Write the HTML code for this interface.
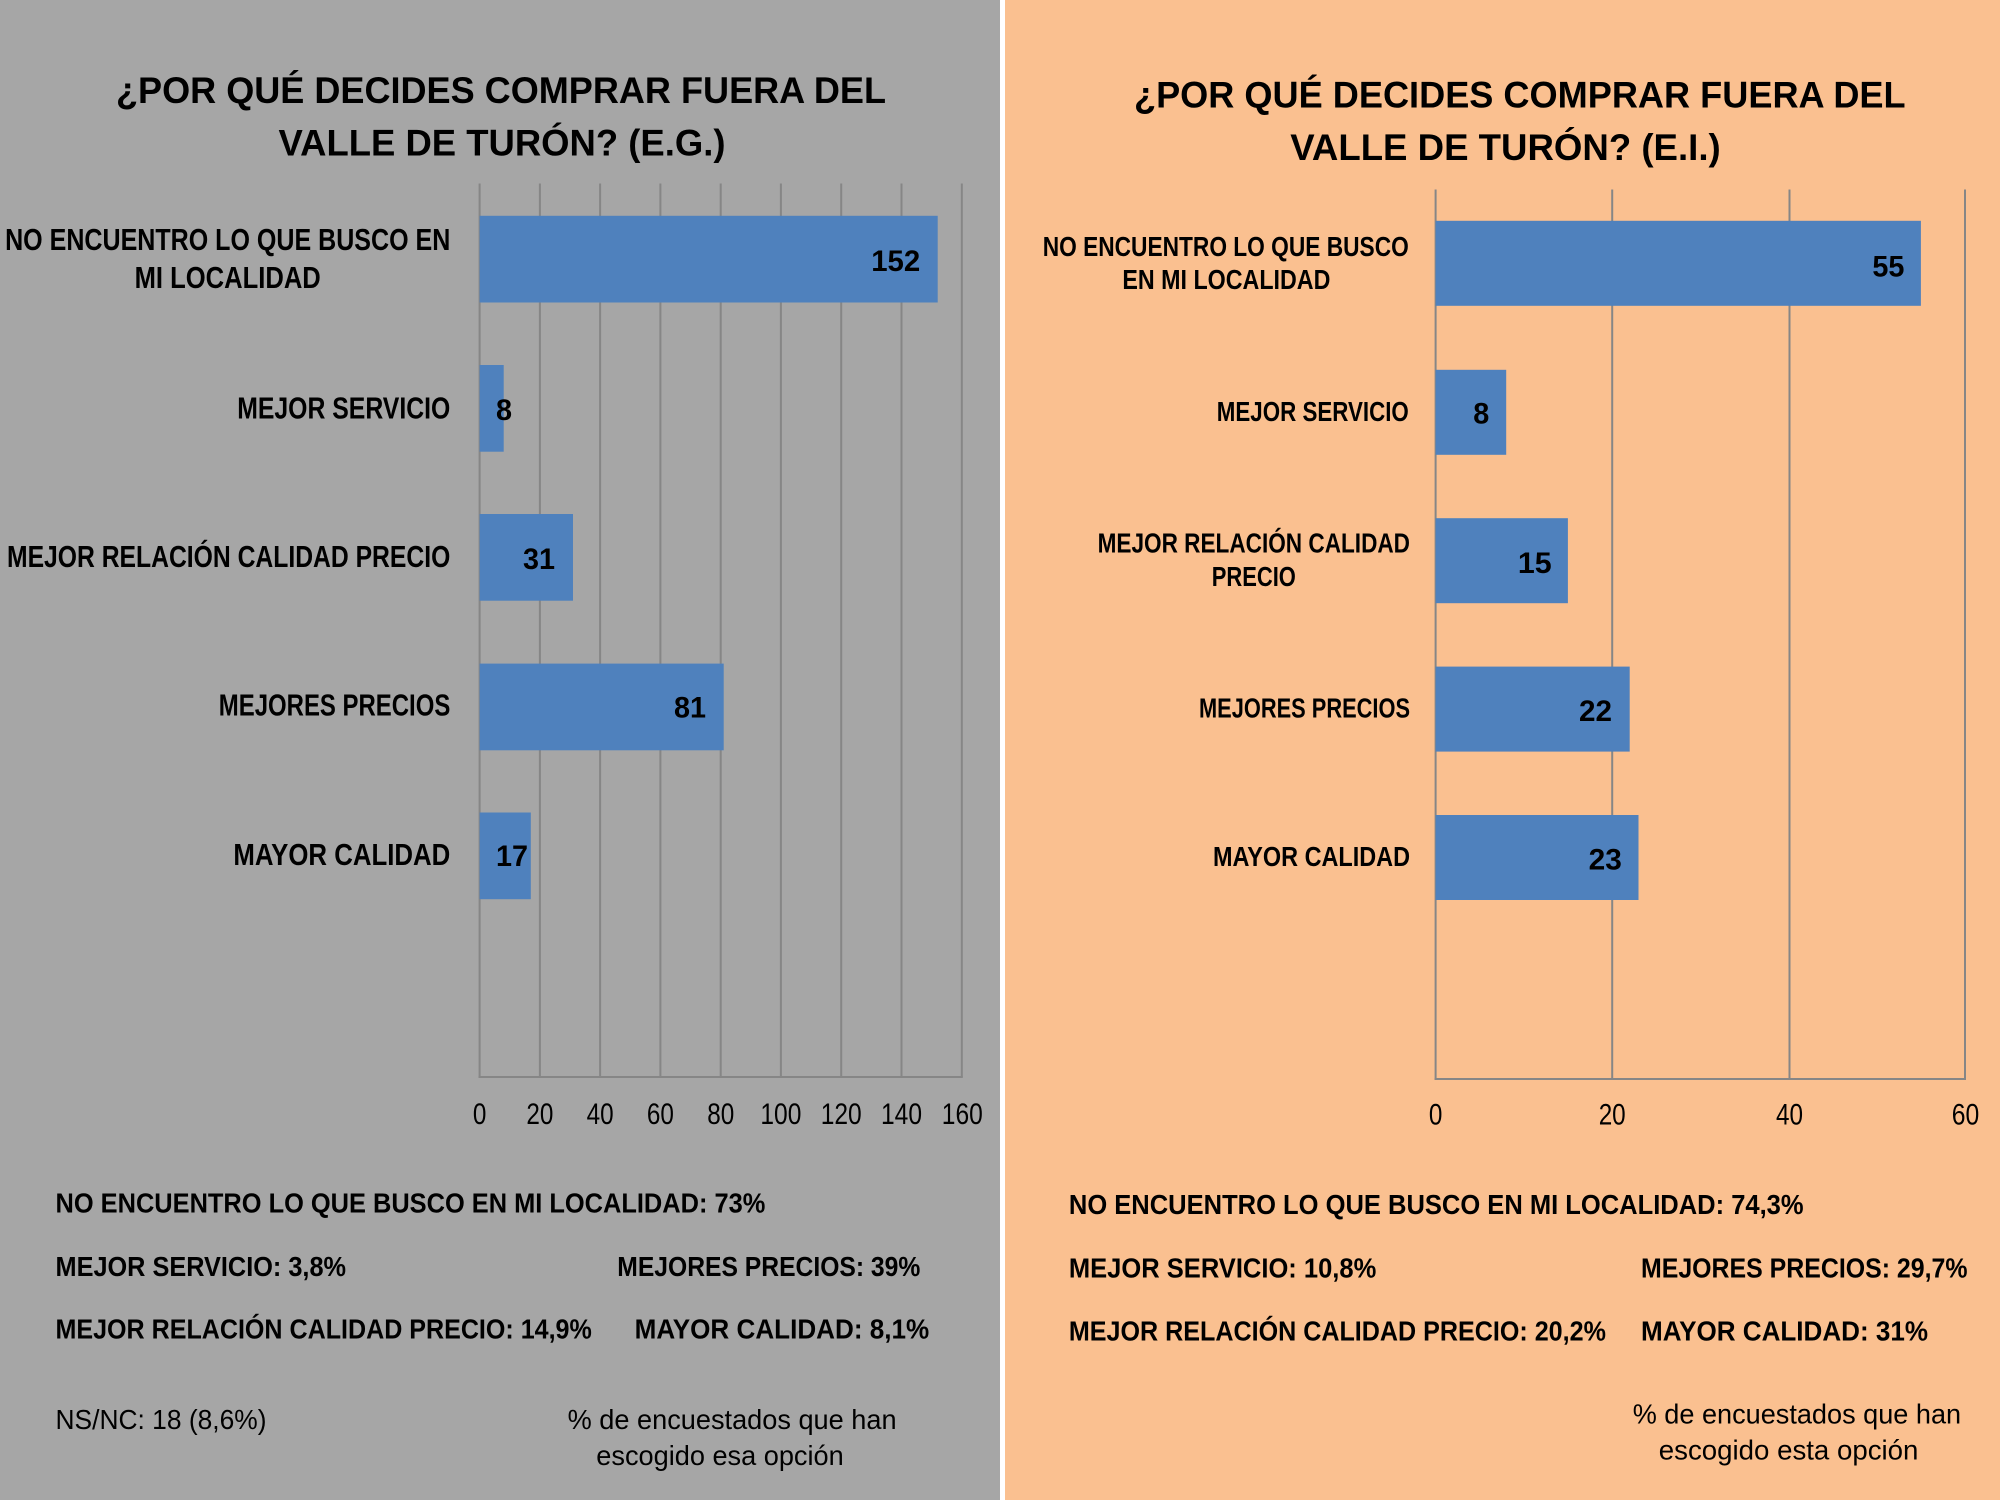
<!DOCTYPE html>
<html>
<head>
<meta charset="utf-8">
<style>
html,body{margin:0;padding:0;width:2000px;height:1500px;overflow:hidden;background:#fff;}
svg{display:block;}
text{font-family:"Liberation Sans",Arial,sans-serif;fill:#000;}
.b{font-weight:bold;}
</style>
</head>
<body>
<svg width="2000" height="1500" viewBox="0 0 2000 1500" xmlns="http://www.w3.org/2000/svg">
<!-- backgrounds -->
<rect x="0" y="0" width="1000" height="1500" fill="#a6a6a6"/>
<rect x="1000" y="0" width="5" height="1500" fill="#ffffff"/>
<rect x="1005" y="0" width="995" height="1500" fill="#fac090"/>

<!-- ===== LEFT CHART ===== -->
<text class="b" x="116" y="103" font-size="37" textLength="770" lengthAdjust="spacingAndGlyphs">¿POR QUÉ DECIDES COMPRAR FUERA DEL</text>
<text class="b" x="278.5" y="155.7" font-size="37" textLength="447" lengthAdjust="spacingAndGlyphs">VALLE DE TURÓN? (E.G.)</text>

<g stroke="#868686" stroke-width="2">
<line x1="539.9" y1="183.5" x2="539.9" y2="1077"/>
<line x1="600.1" y1="183.5" x2="600.1" y2="1077"/>
<line x1="660.4" y1="183.5" x2="660.4" y2="1077"/>
<line x1="720.7" y1="183.5" x2="720.7" y2="1077"/>
<line x1="780.9" y1="183.5" x2="780.9" y2="1077"/>
<line x1="841.2" y1="183.5" x2="841.2" y2="1077"/>
<line x1="901.5" y1="183.5" x2="901.5" y2="1077"/>
<line x1="961.8" y1="183.5" x2="961.8" y2="1077"/>
<line x1="479.6" y1="183.5" x2="479.6" y2="1078"/>
<line x1="478.6" y1="1077" x2="962.8" y2="1077"/>
</g>

<g fill="#4f81bd">
<rect x="479.6" y="215.8" width="458.1" height="86.7"/>
<rect x="479.6" y="365" width="24.1" height="86.7"/>
<rect x="479.6" y="514" width="93.4" height="86.7"/>
<rect x="479.6" y="663.6" width="244.1" height="86.7"/>
<rect x="479.6" y="812.5" width="51.2" height="86.7"/>
</g>

<g class="b" font-size="31">
<text class="b" x="5.1" y="250" textLength="445.2" lengthAdjust="spacingAndGlyphs">NO ENCUENTRO LO QUE BUSCO EN</text>
<text class="b" x="134.6" y="288" textLength="186.2" lengthAdjust="spacingAndGlyphs">MI LOCALIDAD</text>
<text class="b" x="237.2" y="418.5" textLength="213.1" lengthAdjust="spacingAndGlyphs">MEJOR SERVICIO</text>
<text class="b" x="7" y="567" textLength="443.3" lengthAdjust="spacingAndGlyphs">MEJOR RELACIÓN CALIDAD PRECIO</text>
<text class="b" x="218.8" y="715.7" textLength="231.5" lengthAdjust="spacingAndGlyphs">MEJORES PRECIOS</text>
<text class="b" x="233.4" y="865" textLength="216.9" lengthAdjust="spacingAndGlyphs">MAYOR CALIDAD</text>
</g>

<g font-size="30">
<text class="b" x="871.2" y="271" textLength="49" lengthAdjust="spacingAndGlyphs">152</text>
<text class="b" x="496" y="420" textLength="16" lengthAdjust="spacingAndGlyphs">8</text>
<text class="b" x="523" y="569" textLength="32" lengthAdjust="spacingAndGlyphs">31</text>
<text class="b" x="674" y="717.6" textLength="32" lengthAdjust="spacingAndGlyphs">81</text>
<text class="b" x="496" y="866" textLength="32" lengthAdjust="spacingAndGlyphs">17</text>
</g>

<g font-size="30">
<text x="472.9" y="1124" textLength="13.5" lengthAdjust="spacingAndGlyphs">0</text>
<text x="526.4" y="1124" textLength="27" lengthAdjust="spacingAndGlyphs">20</text>
<text x="586.6" y="1124" textLength="27" lengthAdjust="spacingAndGlyphs">40</text>
<text x="646.9" y="1124" textLength="27" lengthAdjust="spacingAndGlyphs">60</text>
<text x="707.2" y="1124" textLength="27" lengthAdjust="spacingAndGlyphs">80</text>
<text x="760.4" y="1124" textLength="41" lengthAdjust="spacingAndGlyphs">100</text>
<text x="820.7" y="1124" textLength="41" lengthAdjust="spacingAndGlyphs">120</text>
<text x="881" y="1124" textLength="41" lengthAdjust="spacingAndGlyphs">140</text>
<text x="941.8" y="1124" textLength="41" lengthAdjust="spacingAndGlyphs">160</text>
</g>

<g font-size="28">
<text class="b" x="55.5" y="1212.5" textLength="709.8" lengthAdjust="spacingAndGlyphs">NO ENCUENTRO LO QUE BUSCO EN MI LOCALIDAD: 73%</text>
<text class="b" x="55.5" y="1276" textLength="290.5" lengthAdjust="spacingAndGlyphs">MEJOR SERVICIO: 3,8%</text>
<text class="b" x="617.3" y="1276" textLength="303" lengthAdjust="spacingAndGlyphs">MEJORES PRECIOS: 39%</text>
<text class="b" x="55.5" y="1338.5" textLength="536.3" lengthAdjust="spacingAndGlyphs">MEJOR RELACIÓN CALIDAD PRECIO: 14,9%</text>
<text class="b" x="634.6" y="1338.5" textLength="294.6" lengthAdjust="spacingAndGlyphs">MAYOR CALIDAD: 8,1%</text>
<text x="55.5" y="1429" textLength="211" lengthAdjust="spacingAndGlyphs">NS/NC: 18 (8,6%)</text>
<text x="567.6" y="1429" textLength="329" lengthAdjust="spacingAndGlyphs">% de encuestados que han</text>
<text x="596.3" y="1465" textLength="247.4" lengthAdjust="spacingAndGlyphs">escogido esa opción</text>
</g>

<!-- ===== RIGHT CHART ===== -->
<text class="b" x="1134" y="107.6" font-size="37" textLength="771.6" lengthAdjust="spacingAndGlyphs">¿POR QUÉ DECIDES COMPRAR FUERA DEL</text>
<text class="b" x="1290.2" y="160.2" font-size="37" textLength="430.5" lengthAdjust="spacingAndGlyphs">VALLE DE TURÓN? (E.I.)</text>

<g stroke="#868686" stroke-width="2">
<line x1="1612.2" y1="189.5" x2="1612.2" y2="1079"/>
<line x1="1789.5" y1="189.5" x2="1789.5" y2="1079"/>
<line x1="1965" y1="189.5" x2="1965" y2="1079"/>
<line x1="1435.6" y1="189.5" x2="1435.6" y2="1080"/>
<line x1="1434.6" y1="1079" x2="1966" y2="1079"/>
</g>

<g fill="#4f81bd">
<rect x="1435.6" y="220.8" width="485.3" height="85"/>
<rect x="1435.6" y="369.8" width="70.6" height="85"/>
<rect x="1435.6" y="518.2" width="132.3" height="85"/>
<rect x="1435.6" y="666.6" width="194.1" height="85"/>
<rect x="1435.6" y="815" width="202.9" height="85"/>
</g>

<g font-size="28">
<text class="b" x="1042.7" y="256" textLength="366.1" lengthAdjust="spacingAndGlyphs">NO ENCUENTRO LO QUE BUSCO</text>
<text class="b" x="1122.4" y="289" textLength="208" lengthAdjust="spacingAndGlyphs">EN MI LOCALIDAD</text>
<text class="b" x="1216.8" y="421" textLength="192" lengthAdjust="spacingAndGlyphs">MEJOR SERVICIO</text>
<text class="b" x="1097.6" y="552.4" textLength="312.4" lengthAdjust="spacingAndGlyphs">MEJOR RELACIÓN CALIDAD</text>
<text class="b" x="1211.7" y="586.2" textLength="84.2" lengthAdjust="spacingAndGlyphs">PRECIO</text>
<text class="b" x="1199" y="717.6" textLength="211" lengthAdjust="spacingAndGlyphs">MEJORES PRECIOS</text>
<text class="b" x="1213" y="866.2" textLength="197" lengthAdjust="spacingAndGlyphs">MAYOR CALIDAD</text>
</g>

<g font-size="30">
<text class="b" x="1872.4" y="276.3" textLength="32" lengthAdjust="spacingAndGlyphs">55</text>
<text class="b" x="1473.2" y="423.6" textLength="16" lengthAdjust="spacingAndGlyphs">8</text>
<text class="b" x="1517.9" y="572.8" textLength="33.8" lengthAdjust="spacingAndGlyphs">15</text>
<text class="b" x="1579" y="720.8" textLength="33" lengthAdjust="spacingAndGlyphs">22</text>
<text class="b" x="1588.6" y="869.4" textLength="33.2" lengthAdjust="spacingAndGlyphs">23</text>
</g>

<g font-size="30">
<text x="1428.9" y="1124.5" textLength="13.5" lengthAdjust="spacingAndGlyphs">0</text>
<text x="1598.7" y="1124.5" textLength="27" lengthAdjust="spacingAndGlyphs">20</text>
<text x="1776" y="1124.5" textLength="27" lengthAdjust="spacingAndGlyphs">40</text>
<text x="1951.8" y="1124.5" textLength="27.5" lengthAdjust="spacingAndGlyphs">60</text>
</g>

<g font-size="28">
<text class="b" x="1068.9" y="1214" textLength="734.7" lengthAdjust="spacingAndGlyphs">NO ENCUENTRO LO QUE BUSCO EN MI LOCALIDAD: 74,3%</text>
<text class="b" x="1068.9" y="1277.6" textLength="307.4" lengthAdjust="spacingAndGlyphs">MEJOR SERVICIO: 10,8%</text>
<text class="b" x="1641" y="1277.6" textLength="326.5" lengthAdjust="spacingAndGlyphs">MEJORES PRECIOS: 29,7%</text>
<text class="b" x="1068.9" y="1340.7" textLength="537" lengthAdjust="spacingAndGlyphs">MEJOR RELACIÓN CALIDAD PRECIO: 20,2%</text>
<text class="b" x="1641" y="1340.7" textLength="287" lengthAdjust="spacingAndGlyphs">MAYOR CALIDAD: 31%</text>
<text x="1632.7" y="1423.5" textLength="328.4" lengthAdjust="spacingAndGlyphs">% de encuestados que han</text>
<text x="1658.8" y="1459.3" textLength="259.6" lengthAdjust="spacingAndGlyphs">escogido esta opción</text>
</g>
</svg>
</body>
</html>
